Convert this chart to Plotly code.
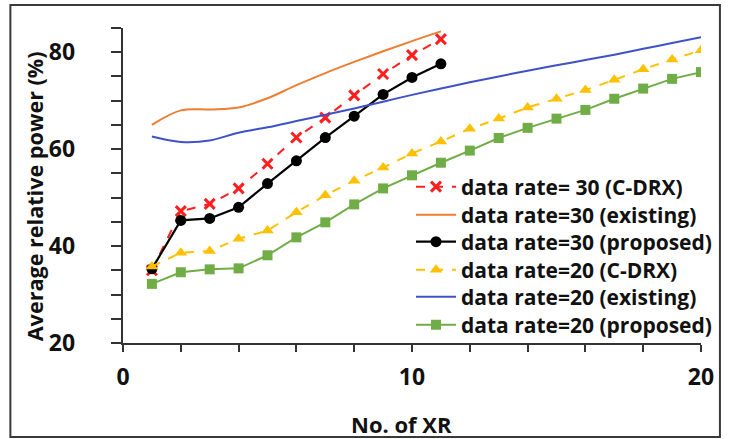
import plotly.graph_objects as go

x30 = list(range(1, 12))
x20 = list(range(1, 21))

r30_cdrx = [35.0, 47.2, 48.7, 51.9, 57.0, 62.4, 66.5, 71.1, 75.5, 79.4, 82.7]
r30_exist = [65.0, 68.0, 68.2, 68.6, 70.5, 73.2, 75.7, 78.0, 80.2, 82.3, 84.3]
r30_prop = [35.3, 45.3, 45.7, 48.0, 52.9, 57.6, 62.4, 66.8, 71.3, 74.8, 77.6]
r20_cdrx = [35.8, 38.6, 39.0, 41.5, 43.2, 47.0, 50.5, 53.5, 56.2, 59.1, 61.6, 64.2,
            66.3, 68.6, 70.4, 72.2, 74.3, 76.5, 78.5, 80.4]
r20_exist = [62.6, 61.5, 61.8, 63.4, 64.5, 65.8, 67.1, 68.4, 69.8, 71.2, 72.5, 73.8,
             75.0, 76.2, 77.3, 78.4, 79.5, 80.7, 81.9, 83.1]
r20_prop = [32.2, 34.6, 35.2, 35.4, 38.1, 41.8, 44.9, 48.6, 51.9, 54.6, 57.2, 59.7,
            62.3, 64.4, 66.3, 68.1, 70.4, 72.5, 74.5, 75.9]

names = ["data rate= 30 (C-DRX)", "data rate=30 (existing)", "data rate=30 (proposed)",
         "data rate=20 (C-DRX)", "data rate=20 (existing)", "data rate=20 (proposed)"]
x_title = "No. of XR"
y_title = "Average relative power (%)"

FONT = "Open Sans"
TXT = "#111111"
legs = ["legend", "legend2", "legend3", "legend4", "legend5", "legend6"]

fig = go.Figure()
fig.add_trace(go.Scatter(x=x30, y=r30_cdrx, name=names[0], mode="lines+markers", legend=legs[0],
                         line=dict(color="#FF1F1F", width=2, dash="dash"),
                         marker=dict(symbol="x-thin", size=10, line=dict(color="#FF1F1F", width=3))))
fig.add_trace(go.Scatter(x=x30, y=r30_exist, name=names[1], mode="lines", legend=legs[1],
                         line=dict(color="#ED7D31", width=2, shape="spline")))
fig.add_trace(go.Scatter(x=x30, y=r30_prop, name=names[2], mode="lines+markers", legend=legs[2],
                         line=dict(color="#000000", width=2.2),
                         marker=dict(symbol="circle", size=11, color="#000000")))
fig.add_trace(go.Scatter(x=x20, y=r20_cdrx, name=names[3], mode="lines+markers", legend=legs[3],
                         line=dict(color="#FFC000", width=2, dash="dash"),
                         marker=dict(symbol="triangle-up", size=11, color="#FFC000")))
fig.add_trace(go.Scatter(x=x20, y=r20_exist, name=names[4], mode="lines", legend=legs[4],
                         line=dict(color="#3F51C8", width=2, shape="spline")))
fig.add_trace(go.Scatter(x=x20, y=r20_prop, name=names[5], mode="lines+markers", legend=legs[5],
                         line=dict(color="#70AD47", width=2),
                         marker=dict(symbol="square", size=10, color="#70AD47")))

W, H = 729, 439
L, R, T, B = 123, 26, 28, 96
pw, ph = W - L - R, H - T - B

def px(xp):
    return (xp - L) / pw

def py(yp):
    return (H - B - yp) / ph

row_y = [187, 215, 242, 270, 297, 325]
legend_cfg = {}
for lg, ry in zip(legs, row_y):
    legend_cfg[lg] = dict(x=px(412), y=py(ry), xanchor="left", yanchor="middle",
                          bgcolor="rgba(255,255,255,0)", borderwidth=0,
                          font=dict(family=FONT, size=21, color=TXT, weight="bold"),
                          itemwidth=40, tracegroupgap=0)

tickfont = dict(family=FONT, size=23, weight="bold", color=TXT)
fig.update_layout(
    width=W, height=H,
    margin=dict(l=L, r=R, t=T, b=B),
    paper_bgcolor="white", plot_bgcolor="white",
    font=dict(family=FONT, size=19, color=TXT),
    showlegend=True,
    xaxis=dict(range=[0, 20], dtick=10, tick0=0, showgrid=False, zeroline=False,
               showline=True, linecolor="#333333", linewidth=2,
               ticks="outside", ticklen=7, tickcolor="#333333", tickwidth=1.5,
               minor=dict(dtick=2, ticks="outside", ticklen=7, tickcolor="#333333", tickwidth=1.5),
               tickfont=tickfont, ticklabelstandoff=5),
    yaxis=dict(range=[20, 85], dtick=20, tick0=20, showgrid=False, zeroline=False,
               showline=True, linecolor="#333333", linewidth=2,
               ticks="outside", ticklen=10, tickcolor="#333333", tickwidth=1.5,
               minor=dict(dtick=5, tick0=20, ticks="outside", ticklen=10, tickcolor="#333333", tickwidth=1.5),
               tickfont=tickfont, ticklabelstandoff=23, ticksuffix="\u00a0\u200a"),
    annotations=[
        dict(text=x_title, xref="paper", yref="paper", x=px(402), y=py(424),
             xanchor="center", yanchor="middle", showarrow=False,
             font=dict(family=FONT, size=22, weight="bold", color=TXT)),
        dict(text=y_title, xref="paper", yref="paper", x=px(34), y=py(196),
             xanchor="center", yanchor="middle", showarrow=False, textangle=-90,
             font=dict(family=FONT, size=21.6, weight="bold", color=TXT)),
    ],
    shapes=[dict(type="rect", xref="paper", yref="paper",
                 x0=px(10), x1=px(722), y0=py(437), y1=py(5),
                 line=dict(color="#3a3a3a", width=2), fillcolor="rgba(0,0,0,0)", layer="below")],
    **legend_cfg,
)

fig.write_html("out.html")
